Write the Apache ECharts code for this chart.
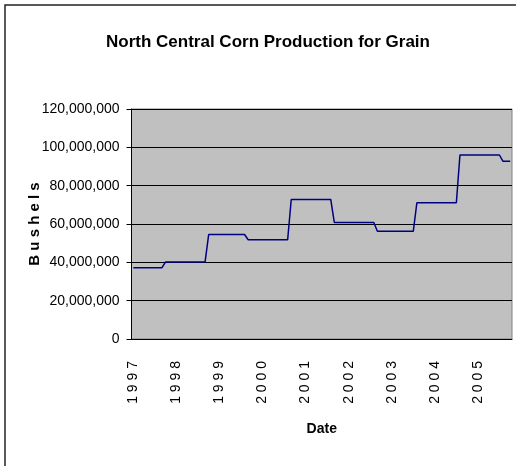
<!DOCTYPE html>
<html>
<head>
<meta charset="utf-8">
<script src="https://cdn.jsdelivr.net/npm/echarts@6.0.0/dist/echarts.min.js"></script>
<style>
  html, body { margin: 0; padding: 0; background: #fff; }
  #main { width: 516px; height: 466px; }
</style>
</head>
<body>
<div id="main"></div>
<script>
// monthly estimates, Jan 1997 .. Oct 2005 (one row per year)
var years = [1997, 1998, 1999, 2000, 2001, 2002, 2003, 2004, 2005];
var monthsInLastYear = 10;
var production = [
  37200000, 37200000, 37200000, 37200000, 37200000, 37200000, 37200000, 37200000, 37200000, 40200000, 40200000, 40200000,
  40200000, 40200000, 40200000, 40200000, 40200000, 40200000, 40200000, 40200000, 40200000, 54500000, 54500000, 54500000,
  54500000, 54500000, 54500000, 54500000, 54500000, 54500000, 54500000, 54500000, 51800000, 51800000, 51800000, 51800000,
  51800000, 51800000, 51800000, 51800000, 51800000, 51800000, 51800000, 51800000, 72800000, 72800000, 72800000, 72800000,
  72800000, 72800000, 72800000, 72800000, 72800000, 72800000, 72800000, 72800000, 60800000, 60800000, 60800000, 60800000,
  60800000, 60800000, 60800000, 60800000, 60800000, 60800000, 60800000, 60800000, 56200000, 56200000, 56200000, 56200000,
  56200000, 56200000, 56200000, 56200000, 56200000, 56200000, 56200000, 71100000, 71100000, 71100000, 71100000, 71100000,
  71100000, 71100000, 71100000, 71100000, 71100000, 71100000, 71100000, 96000000, 96000000, 96000000, 96000000, 96000000,
  96000000, 96000000, 96000000, 96000000, 96000000, 96000000, 96000000, 92700000, 92700000, 92700000
];

var dates = [];
years.forEach(function (y, i) {
  var n = i === years.length - 1 ? monthsInLastYear : 12;
  for (var m = 1; m <= n; m++) {
    dates.push(y + "-" + (m < 10 ? "0" + m : m));
  }
});

var font = "'Liberation Sans', Arial, sans-serif";

var myChart = echarts.init(document.getElementById("main"), null, { renderer: "canvas" });

var option = {
  backgroundColor: "#fff",
  animation: false,
  title: {
    text: "North Central Corn Production for Grain",
    left: 263,
    textAlign: "center",
    top: 29,
    textStyle: {
      fontFamily: font,
      fontWeight: "bold",
      fontSize: 17,
      color: "#000",
    },
  },
  graphic: [
    {
      type: "rect",
      shape: { x: 5, y: 5, width: 700, height: 700 },
      style: { fill: null, stroke: "#222", lineWidth: 1.5 },
      silent: true,
    },
  ],
  grid: {
    left: 131.5,
    right: 4,
    top: 109,
    bottom: 127,
    outerBoundsMode: "none",
    containLabel: false,
    show: true,
    backgroundColor: "#c0c0c0",
    borderColor: "#808080",
    borderWidth: 1,
  },
  xAxis: {
    type: "category",
    data: dates,
    boundaryGap: true,
    name: "Date",
    nameLocation: "middle",
    nameGap: 83,
    nameMoveOverlap: false,
    nameTextStyle: {
      fontFamily: font,
      fontWeight: "bold",
      fontSize: 14,
      color: "#000",
    },
    axisLine: { lineStyle: { color: "#000", width: 1 } },
    axisTick: { interval: 0, length: 5, lineStyle: { color: "#000" } },
    axisLabel: {
      interval: function (idx) {
        return idx % 12 === 0;
      },
      rotate: 90,
      margin: 22,
      padding: [6, 0, 0, 0],
      fontFamily: font,
      fontSize: 14,
      color: "#000",
      formatter: function (v) {
        return v.slice(0, 4).split("").join(" ");
      },
    },
    splitLine: { show: false },
  },
  yAxis: {
    type: "value",
    min: 0,
    max: 120000000,
    interval: 20000000,
    name: "B u s h e l s",
    nameLocation: "middle",
    nameRotate: 90,
    nameGap: 89,
    nameMoveOverlap: false,
    nameTextStyle: {
      fontFamily: font,
      fontWeight: "bold",
      fontSize: 15,
      color: "#000",
    },
    axisLine: { show: true, lineStyle: { color: "#000", width: 1 } },
    axisTick: { show: true, length: 5, lineStyle: { color: "#000" } },
    axisLabel: {
      margin: 12,
      fontFamily: font,
      fontSize: 14,
      color: "#000",
      formatter: function (v) {
        return v.toLocaleString("en-US");
      },
    },
    splitLine: { show: true, lineStyle: { color: "#000", width: 1 } },
  },
  series: [
    {
      name: "Production",
      type: "line",
      data: production,
      symbol: "none",
      lineStyle: { color: "#000080", width: 1.5 },
    },
  ],
};

myChart.setOption(option);
</script>
</body>
</html>
